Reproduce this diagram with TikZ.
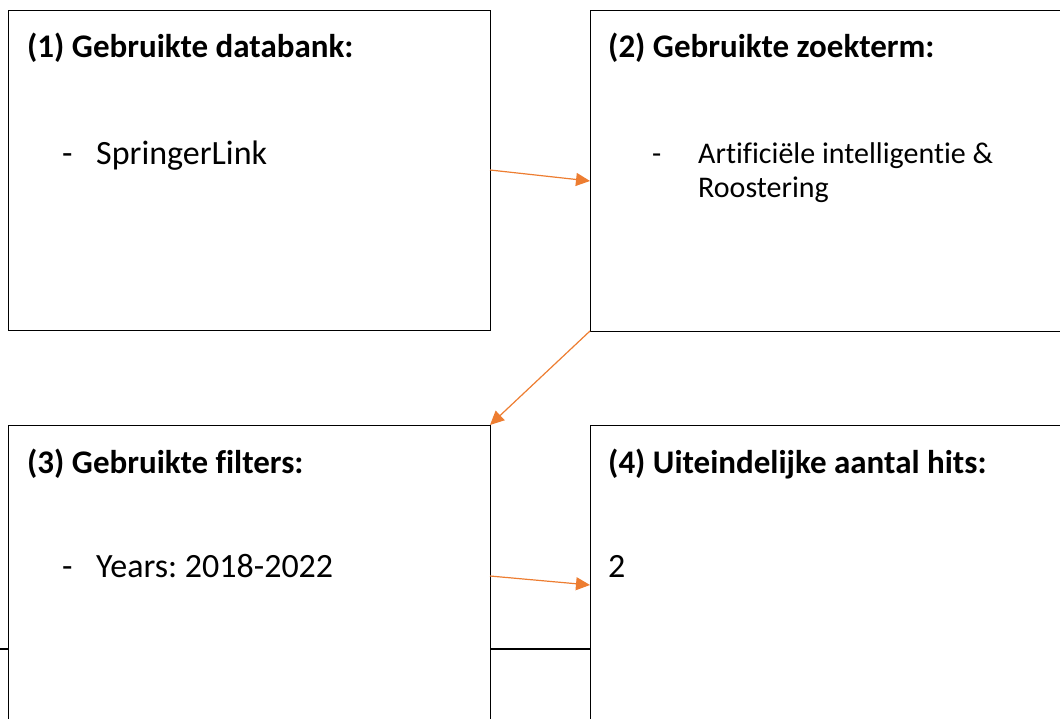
\documentclass[tikz,border=0pt]{standalone}
\usepackage{fontspec}
\setmainfont[Ligatures=NoCommon]{Carlito}
\usetikzlibrary{arrows.meta}
\definecolor{flow}{HTML}{ED7D31}
\frenchspacing
\tikzset{
  panel/.style={draw=black, line width=1pt, fill=white, rectangle, inner sep=0pt, outer sep=0pt, anchor=north west},
  heading/.style={anchor=base west, inner sep=0pt, font=\fontsize{33}{36}\selectfont\bfseries},
  entry/.style={anchor=base west, inner sep=0pt, font=\fontsize{34}{36}\selectfont},
  smallentry/.style={anchor=base west, inner sep=0pt, font=\fontsize{30}{34}\selectfont},
  link/.style={draw=flow, line width=1.2pt, -{Triangle[length=14pt,width=13pt]}}
}
\begin{document}
\begin{tikzpicture}[x=1pt,y=-1pt]
\useasboundingbox (0,0) rectangle (1060,719);
\clip (0,0) rectangle (1060,719);
% rule of the page footer
\draw[line width=1.5pt] (0,649) -- (590,649);
% the four panels
\node[panel, minimum width=482pt, minimum height=319pt] (b1) at (8,11) {};
\node[panel, minimum width=480pt, minimum height=320pt] (b2) at (590,11) {};
\node[panel, minimum width=482pt, minimum height=320pt] (b3) at (8,425) {};
\node[panel, minimum width=480pt, minimum height=320pt] (b4) at (590,425) {};
% panel 1
\node[heading] (t1) at (27,58) {(1) Gebruikte databank:};
\node[entry] (d1) at (62,165) {-};
\node[entry] (e1) at (96,165) {SpringerLink};
% panel 2
\node[heading] (t2) at (608,58) {(2) Gebruikte zoekterm:};
\node[smallentry] (d2) at (652,164) {-};
\node[smallentry] (e2) at (698,164) {Artificiële intelligentie \&};
\node[smallentry] (e2b) at (698,198) {Roostering};
% panel 3
\node[heading] (t3) at (27,473) {(3) Gebruikte filters:};
\node[entry] (d3) at (62,577) {-};
\node[entry] (e3) at (96,577) {Years: 2018-2022};
% panel 4
\node[heading] (t4) at (608,473) {(4) Uiteindelijke aantal hits:};
\node[entry] (e4) at (608,577) {2};
% connectors
\coordinate (s1) at (b1.north east |- 0,170);
\coordinate (f1) at (b2.north west |- 0,181);
\coordinate (s3) at (b3.north east |- 0,576);
\coordinate (f3) at (b4.north west |- 0,585);
\draw[link] (s1) -- (f1);
\draw[link] (b2.south west) -- (b3.north east);
\draw[link] (s3) -- (f3);
\end{tikzpicture}
\end{document}
